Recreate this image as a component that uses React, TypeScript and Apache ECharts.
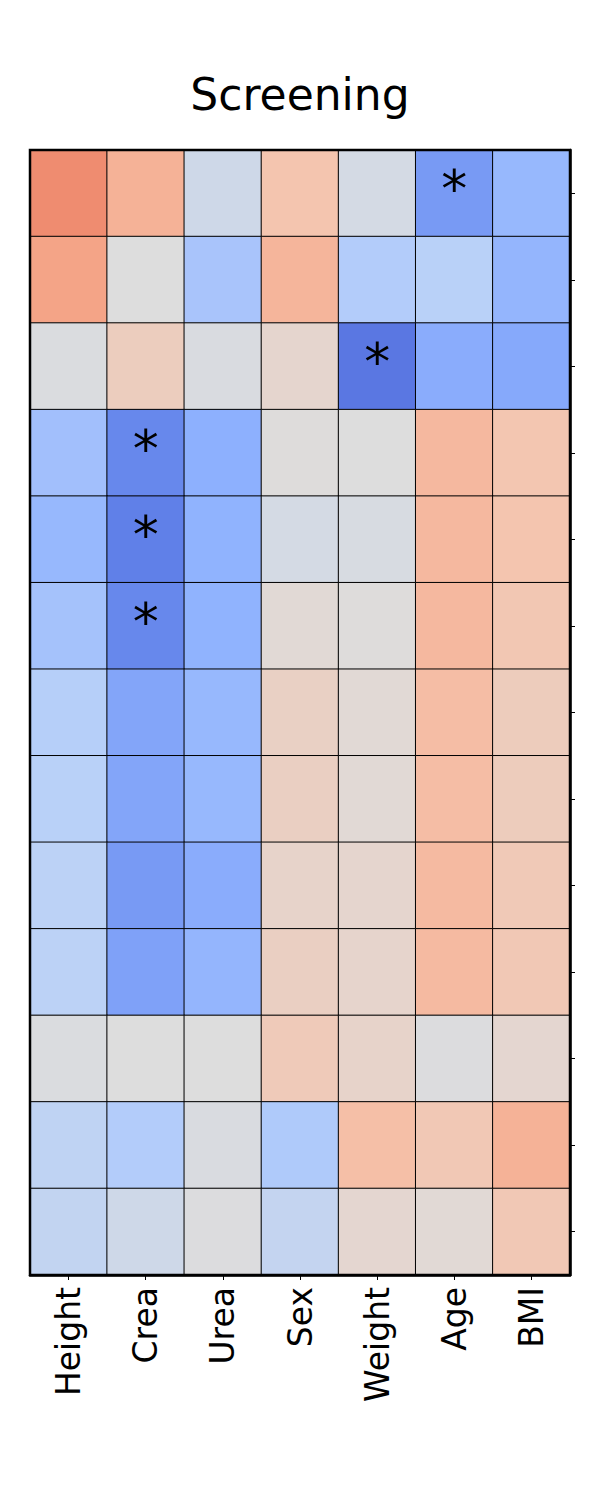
import React, { useEffect, useRef } from "react";
import * as echarts from "echarts";

const title = "Screening";
const columns = ["Height", "Crea", "Urea", "Sex", "Weight", "Age", "BMI"];
const rowIds = ["r1", "r2", "r3", "r4", "r5", "r6", "r7", "r8", "r9", "r10", "r11", "r12", "r13"];

// correlation values, one array per row (top to bottom), in column order
const row1 = [0.56, 0.36, -0.1, 0.24, -0.06, -0.62, -0.44];
const row2 = [0.44, 0.0, -0.34, 0.34, -0.28, -0.24, -0.46];
const row3 = [-0.02, 0.16, -0.03, 0.08, -0.8, -0.52, -0.54];
const row4 = [-0.38, -0.72, -0.5, 0.01, 0.0, 0.32, 0.23];
const row5 = [-0.44, -0.76, -0.48, -0.06, -0.04, 0.32, 0.24];
const row6 = [-0.36, -0.72, -0.48, 0.04, 0.01, 0.32, 0.22];
const row7 = [-0.26, -0.56, -0.44, 0.13, 0.04, 0.29, 0.17];
const row8 = [-0.24, -0.56, -0.44, 0.14, 0.04, 0.29, 0.17];
const row9 = [-0.22, -0.62, -0.52, 0.1, 0.08, 0.31, 0.2];
const row10 = [-0.22, -0.58, -0.46, 0.14, 0.09, 0.31, 0.21];
const row11 = [-0.02, 0.0, 0.0, 0.19, 0.1, -0.01, 0.07];
const row12 = [-0.2, -0.28, -0.03, -0.3, 0.28, 0.21, 0.36];
const row13 = [-0.18, -0.1, -0.01, -0.17, 0.07, 0.04, 0.21];
const rows = [row1, row2, row3, row4, row5, row6, row7, row8, row9, row10, row11, row12, row13];

// significant cells: [rowIndex, columnIndex]
const significant = [
  [0, 5],
  [2, 4],
  [3, 1],
  [4, 1],
  [5, 1],
];

const coolwarm = [
  "#3b4cc0",
  "#6282ea",
  "#8db0fe",
  "#b8d0f9",
  "#dddddd",
  "#f5c4ad",
  "#f49a7b",
  "#de604d",
  "#b40426",
];

export default function App() {
  const ref = useRef<HTMLDivElement>(null);
  useEffect(() => {
    if (!ref.current) return;
    const chart = echarts.init(ref.current, null, { renderer: "svg" });
    const sig = new Set(significant.map(([r, c]) => `${r}-${c}`));
    const data: any[] = [];
    rows.forEach((vals, r) => {
      vals.forEach((v, c) => {
        data.push({ value: [c, r, v], star: sig.has(`${r}-${c}`) });
      });
    });
    const font = "DejaVu Sans";
    chart.setOption({
      animation: false,
      backgroundColor: "#ffffff",
      title: {
        text: title,
        left: "center",
        top: 67,
        textStyle: { fontFamily: font, fontSize: 44, fontWeight: "normal", color: "#000" },
      },
      grid: { left: 30, top: 150, width: 540, height: 1125 },
      xAxis: {
        type: "category",
        data: columns,
        position: "bottom",
        axisLine: { show: true, lineStyle: { color: "#000", width: 2.5 } },
        axisTick: { show: true, alignWithLabel: true, length: 5, lineStyle: { color: "#000", width: 1 } },
        axisLabel: {
          rotate: 90,
          fontFamily: font,
          fontSize: 33,
          color: "#000",
          margin: 12,
          interval: 0,
        },
        splitLine: { show: false },
      },
      yAxis: {
        type: "category",
        data: rowIds,
        inverse: true,
        position: "right",
        axisLine: { show: true, lineStyle: { color: "#000", width: 2.5 } },
        axisTick: { show: true, alignWithLabel: true, length: 5, lineStyle: { color: "#000", width: 1 } },
        axisLabel: { show: false },
        splitLine: { show: false },
      },
      visualMap: {
        show: false,
        type: "continuous",
        min: -1,
        max: 1,
        dimension: 2,
        inRange: { color: coolwarm },
      },
      series: [
        {
          type: "heatmap",
          data,
          itemStyle: { borderColor: "#000", borderWidth: 1 },
          label: {
            show: true,
            fontFamily: font,
            fontSize: 52,
            color: "#000",
            offset: [0, -4],
            formatter: (p: any) => (p.data.star ? "*" : ""),
          },
          emphasis: { disabled: true },
        },
      ],
      graphic: [
        {
          type: "rect",
          shape: { x: 30, y: 150, width: 540, height: 1125 },
          style: { fill: "none", stroke: "#000", lineWidth: 2.5 },
          z: 100,
          silent: true,
        },
      ],
    });
    return () => chart.dispose();
  }, []);
  return (
    <div
      ref={ref}
      style={{ position: "absolute", left: 0, top: 0, width: 600, height: 1500 }}
    />
  );
}
